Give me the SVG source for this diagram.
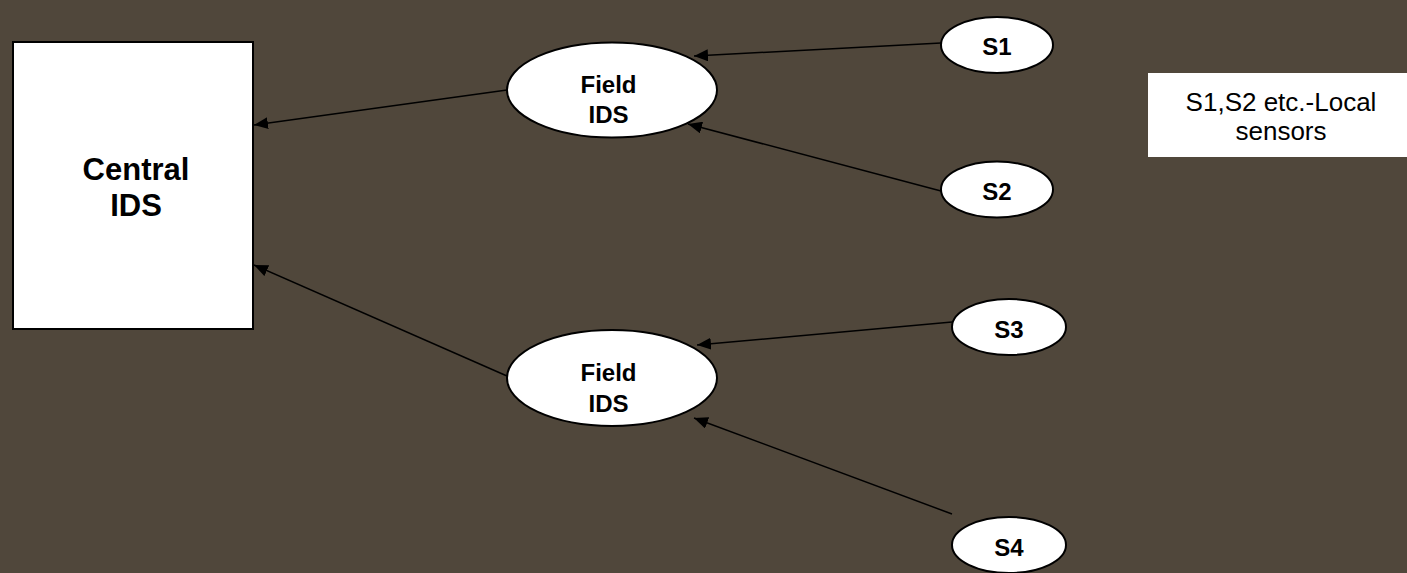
<svg xmlns="http://www.w3.org/2000/svg" width="1407" height="573" viewBox="0 0 1407 573">
<style>
.node{fill:#fff;stroke:#000;stroke-width:2}
.b{font-family:"Liberation Sans",Arial,sans-serif;font-weight:bold;fill:#000;text-anchor:middle}
.r{font-family:"Liberation Sans",Arial,sans-serif;fill:#000;text-anchor:middle}
.edge{stroke:#000;stroke-width:1.5;fill:none;marker-end:url(#ah)}
</style>
<defs>
<marker id="ah" viewBox="0 0 14 12" refX="14" refY="6" markerWidth="14" markerHeight="12" markerUnits="userSpaceOnUse" orient="auto">
<path d="M0,0 L14,6 L0,12 Z" fill="#000"/>
</marker>
</defs>
<rect width="1407" height="573" fill="#50473b"/>
<g id="connectors">
<line class="edge" x1="507" y1="90" x2="254" y2="125"/>
<line class="edge" x1="507" y1="376" x2="254" y2="265"/>
<line class="edge" x1="941" y1="43" x2="694" y2="56"/>
<line class="edge" x1="941" y1="191" x2="688" y2="124"/>
<line class="edge" x1="952" y1="322" x2="697" y2="345"/>
<line class="edge" x1="952" y1="514" x2="694" y2="418"/>
</g>
<g id="central">
<rect class="node" x="13" y="42" width="240" height="287"/>
<text class="b" font-size="31" x="136" y="180">Central</text>
<text class="b" font-size="31" x="136" y="216">IDS</text>
</g>
<g id="field1">
<ellipse class="node" cx="612" cy="90" rx="105" ry="47.5"/>
<text class="b" font-size="24" x="608.5" y="92.5">Field</text>
<text class="b" font-size="24" x="608.5" y="123">IDS</text>
</g>
<g id="field2">
<ellipse class="node" cx="612" cy="378" rx="105" ry="48"/>
<text class="b" font-size="24" x="608.5" y="381">Field</text>
<text class="b" font-size="24" x="608.5" y="411.5">IDS</text>
</g>
<g id="s1">
<ellipse class="node" cx="997" cy="45" rx="56" ry="28"/>
<text class="b" font-size="24" x="997" y="55">S1</text>
</g>
<g id="s2">
<ellipse class="node" cx="997" cy="189.5" rx="56" ry="28"/>
<text class="b" font-size="24" x="997" y="200">S2</text>
</g>
<g id="s3">
<ellipse class="node" cx="1009" cy="327" rx="57" ry="28"/>
<text class="b" font-size="24" x="1009" y="337.5">S3</text>
</g>
<g id="s4">
<ellipse class="node" cx="1009" cy="545" rx="57" ry="28"/>
<text class="b" font-size="24" x="1009" y="555.5">S4</text>
</g>
<g id="legend">
<rect x="1148" y="73" width="259" height="84" fill="#fff"/>
<text class="r" font-size="26" x="1281" y="111">S1,S2 etc.-Local</text>
<text class="r" font-size="26" x="1281" y="140">sensors</text>
</g>
</svg>
